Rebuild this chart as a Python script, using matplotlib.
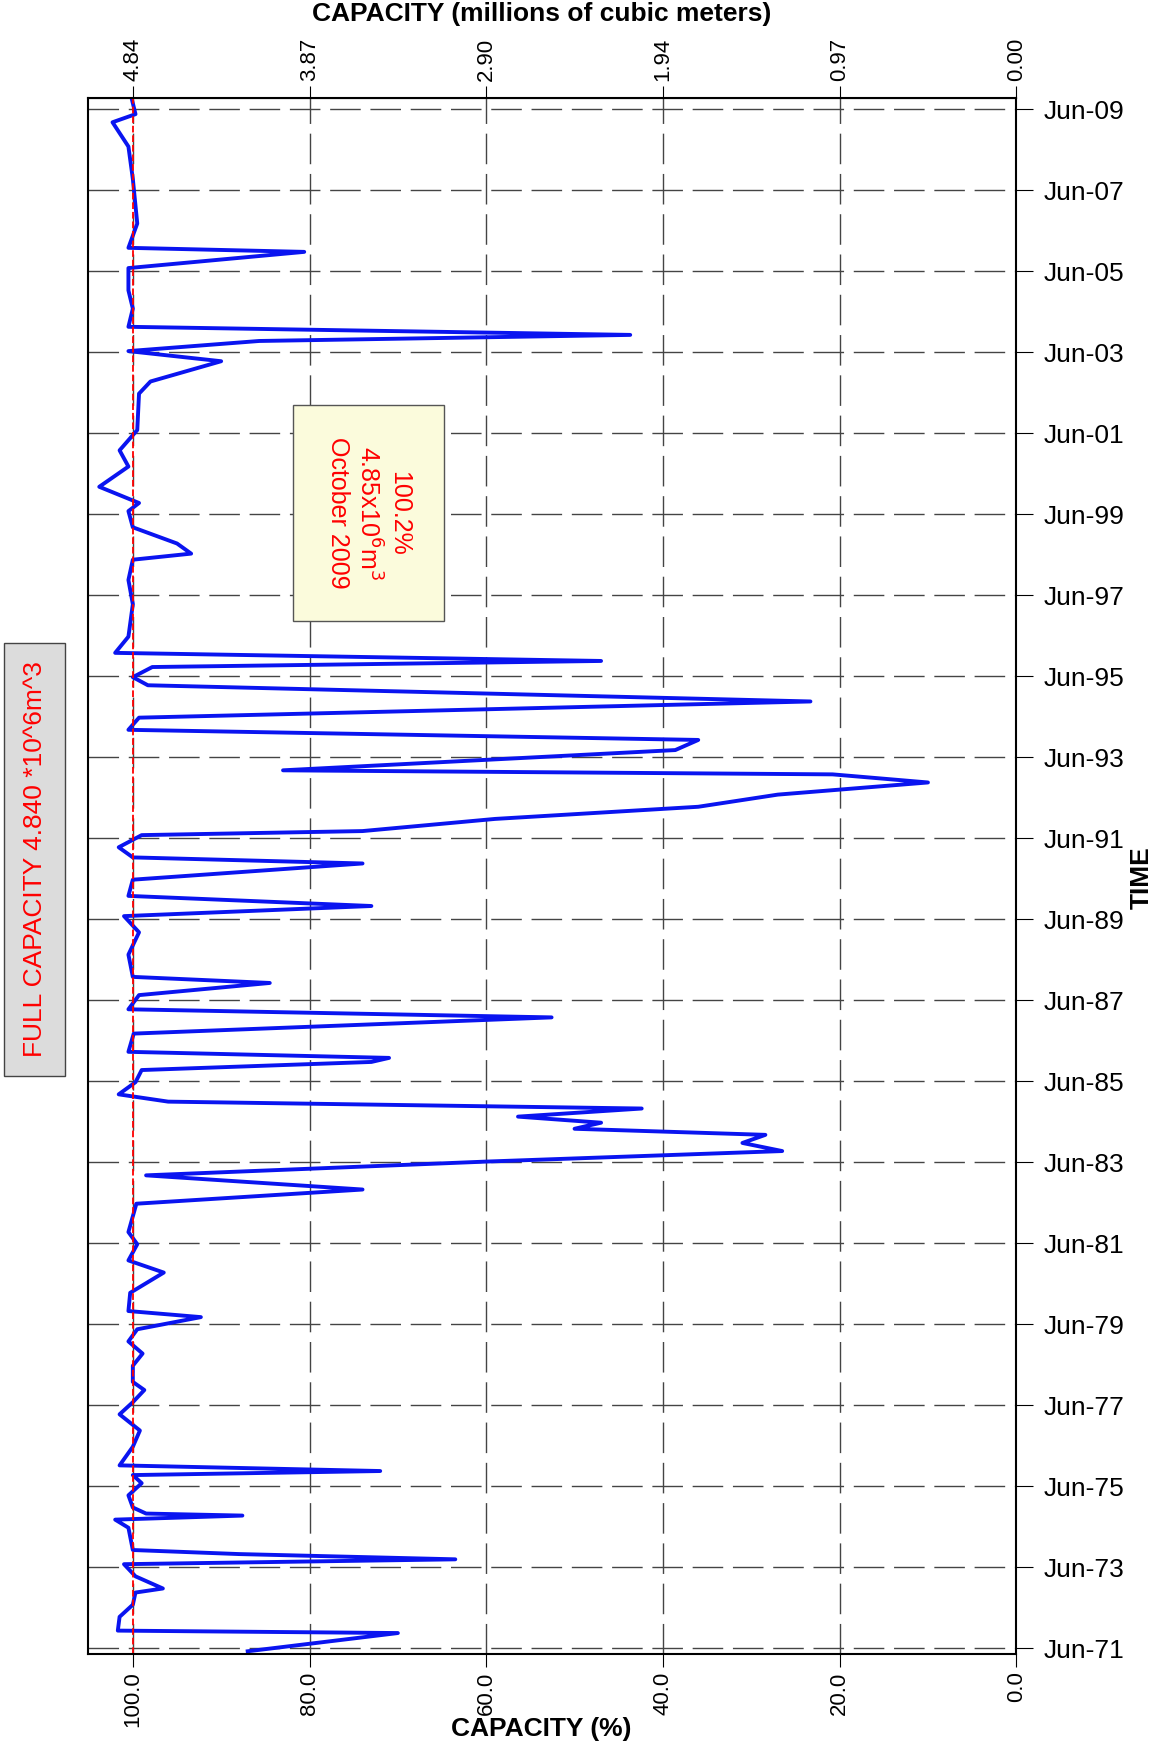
import matplotlib.pyplot as plt
from matplotlib.ticker import FixedLocator

plt.rcParams['font.family'] = ['Liberation Sans Narrow', 'Liberation Sans', 'DejaVu Sans']

# decimal year, percent of full capacity
years = [1971.35, 1971.80, 1971.86, 1972.2, 1972.5, 1972.8, 1972.9, 1973.2, 1973.5, 1973.62, 1973.75, 1973.85,
         1974.4, 1974.6, 1974.7, 1974.75, 1974.9, 1975.2, 1975.5, 1975.7, 1975.8, 1975.94,
         1976.4, 1976.8, 1977.2, 1977.5, 1977.8, 1978.0, 1978.4, 1978.7, 1979.0, 1979.3, 1979.6, 1979.75,
         1980.2, 1980.7, 1981.0, 1981.4, 1981.7, 1982.4, 1982.75, 1983.1, 1983.44, 1983.7, 1983.9, 1984.1,
         1984.25, 1984.4, 1984.55, 1984.75, 1984.92, 1985.1, 1985.4, 1985.7, 1985.9, 1986.0, 1986.15,
         1986.6, 1987.0, 1987.2, 1987.55, 1987.85, 1988.0, 1988.55, 1989.1, 1989.5, 1989.75, 1990.0,
         1990.4, 1990.8, 1990.95, 1991.2, 1991.5, 1991.6, 1991.9, 1992.2, 1992.5, 1992.8, 1993.0,
         1993.1, 1993.6, 1993.85, 1994.1, 1994.4, 1994.8, 1995.2, 1995.4, 1995.65, 1995.8, 1996.0,
         1996.4, 1997.2, 1997.8, 1998.3, 1998.45, 1998.7, 1999.1, 1999.5, 1999.7, 2000.1, 2000.6,
         2001.0, 2001.5, 2002.4, 2002.7, 2003.2, 2003.45, 2003.7, 2003.85, 2004.05, 2004.5, 2004.95,
         2005.5, 2005.9, 2006.0, 2006.6, 2007.7, 2008.5, 2009.1, 2009.3, 2009.75]
pct = [87, 70, 101.7, 101.5, 100, 99.7, 96.6, 99.7, 101, 63.5, 88, 100,
       100.5, 102, 87.6, 98.5, 100, 100.5, 99, 100, 72, 101.5,
       100, 99.2, 101.5, 100, 98.7, 100, 100, 98.9, 100.5, 99.5, 92.3, 100.5,
       100.3, 96.5, 100.5, 99.5, 100.5, 99.6, 74, 98.5, 60, 26.5, 31, 28.4,
       50, 47, 56.4, 42.4, 96, 101.6, 99.7, 99, 73, 71, 100.5,
       99.9, 52.6, 100.5, 99.3, 84.5, 100, 100.5, 99.3, 101, 73, 100.5,
       100, 74, 100, 101.6, 99, 74, 59, 36, 27, 10, 20.8,
       83, 38.6, 36, 100.5, 99.3, 23.3, 98.3, 100, 97.8, 47, 102,
       100.5, 100, 100.5, 100, 93.4, 95, 100, 100.5, 99.3, 103.8, 100.5,
       101.5, 99.5, 99.3, 98, 90, 100.5, 85.7, 43.7, 100.5, 100, 100.5,
       100.5, 80.6, 100.5, 99.5, 100, 100.5, 102.3, 99.7, 100.2]

tick_years = [1971.42 + 2 * i for i in range(20)]
tick_labels = ["Jun-%02d" % ((71 + 2 * i) % 100) for i in range(20)]
pct_ticks = [100, 80, 60, 40, 20, 0]
vol_labels = ["4.84", "3.87", "2.90", "1.94", "0.97", "0.00"]

fig = plt.figure(figsize=(11.52, 17.43), dpi=100)
ax = fig.add_axes([0.0762, 0.051, 0.806, 0.8928])
ax.plot(pct, years, color='#0a14f0', lw=2.8)
ax.axvline(100, color='red', ls='--', lw=1.3)
ax.set_xlim(105.1, 0)
ax.set_ylim(1971.28, 2009.70)

ax.xaxis.set_major_locator(FixedLocator(pct_ticks))
ax.set_xticklabels(["%.1f" % v for v in pct_ticks], rotation=90, fontsize=16)
ax.yaxis.set_major_locator(FixedLocator(tick_years))
ax.yaxis.tick_right()
ax.set_yticklabels(tick_labels, fontsize=19)
ax.tick_params(axis='y', length=12, pad=8)
ax.tick_params(axis='x', length=9)
ax.grid(True, color='#444444', ls=(0, (22, 7)), lw=1)
for s in ax.spines.values():
    s.set_linewidth(1.5)

top = ax.secondary_xaxis('top')
top.set_xticks(pct_ticks)
top.set_xticklabels(vol_labels, rotation=90, fontsize=16)
top.tick_params(length=9)

fig.text(0.47, 0.008, "CAPACITY (%)", fontsize=19, fontweight='bold', ha='center', va='center')
fig.text(0.47, 0.992, "CAPACITY (millions of cubic meters)", fontsize=19, fontweight='bold', ha='center', va='center')
fig.text(0.991, 0.4965, "TIME", fontsize=19, fontweight='bold', rotation=90, ha='center', va='center')

# annotation box and arrow
ax.annotate("", xy=(100.2, 2009.75), xytext=(83.4, 2001.45),
            arrowprops=dict(arrowstyle='-|>', color='red', lw=1.6, mutation_scale=22))
ax.text(73.3, 1999.45, "100.2%\n4.85x10$^6$m$^3$\nOctober 2009", rotation=-90, color='red',
        fontsize=18, ha='center', va='center', linespacing=1.25,
        bbox=dict(boxstyle='square,pad=1.3', fc='#fbfbdc', ec='#555555'))

fig.text(0.030, 0.507, "FULL CAPACITY 4.840 *10^6m^3", rotation=90, color='red', fontsize=19,
         ha='center', va='center',
         bbox=dict(boxstyle='square,pad=0.7', fc='#dcdcdc', ec='#444444'))

fig.savefig("out.png", dpi=100)
